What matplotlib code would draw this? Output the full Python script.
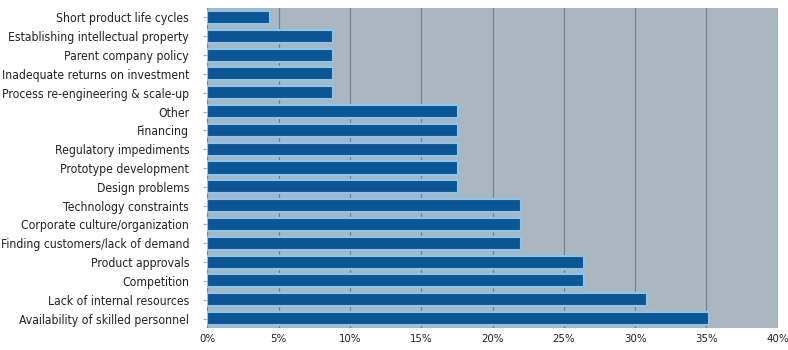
import matplotlib.pyplot as plt
from matplotlib.ticker import FuncFormatter

causes = [
    "Short product life cycles",
    "Establishing intellectual property",
    "Parent company policy",
    "Inadequate returns on investment",
    "Process re-engineering & scale-up",
    "Other",
    "Financing",
    "Regulatory impediments",
    "Prototype development",
    "Design problems",
    "Technology constraints",
    "Corporate culture/organization",
    "Finding customers/lack of demand",
    "Product approvals",
    "Competition",
    "Lack of internal resources",
    "Availability of skilled personnel",
]
shares = [4.4, 8.8, 8.8, 8.8, 8.8, 17.6, 17.6, 17.6, 17.6, 17.6,
          22.0, 22.0, 22.0, 26.4, 26.4, 30.8, 35.2]
xticks = [0, 5, 10, 15, 20, 25, 30, 35, 40]

fig = plt.figure(figsize=(7.88, 3.5), dpi=100)
ax = fig.add_axes([0.263, 0.063, 0.724, 0.914])
ax.set_facecolor("#aab7be")

ax.barh(range(len(causes)), shares, height=0.7, color="#0b5796",
        edgecolor="#8cc4ea", linewidth=1.5, zorder=3)

ax.set_xlim(0, 40)
ax.set_ylim(len(causes) - 0.5, -0.5)
ax.set_xticks(xticks)
ax.xaxis.set_major_formatter(FuncFormatter(lambda v, p: "{:d}%".format(int(v))))
ax.set_yticks(range(len(causes)))
ax.set_yticklabels(causes)

ax.grid(axis="x", color="#76838b", linewidth=0.9, zorder=1)
ax.tick_params(axis="y", length=3, color="#e8a050", pad=10, labelsize=8.7)
ax.tick_params(axis="x", length=0, pad=4, labelsize=8.2)
for lab in ax.get_yticklabels() + ax.get_xticklabels():
    lab.set_fontfamily("DejaVu Sans")
    lab.set_fontstretch("condensed")
    lab.set_color("#222222")

for s in ax.spines:
    ax.spines[s].set_visible(False)

fig.savefig("out.png", dpi=100)
